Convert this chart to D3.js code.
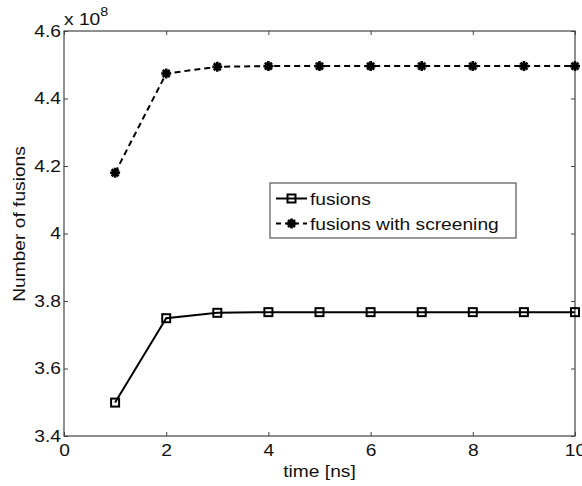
<!DOCTYPE html>
<html>
<head>
<meta charset="utf-8">
<script src="https://cdn.jsdelivr.net/npm/d3@7"></script>
<style>
  body { margin: 0; background: #fff; }
  text { font-family: "Liberation Sans", Arial, sans-serif; fill: #111; }
</style>
</head>
<body>
<div id="chart"></div>
<script>
// data (values in units of 1e8)
var times = [1, 2, 3, 4, 5, 6, 7, 8, 9, 10];
var fusions = [3.499, 3.749, 3.765, 3.767, 3.767, 3.767, 3.767, 3.767, 3.767, 3.767];
var fusionsScreening = [4.180, 4.474, 4.494, 4.496, 4.496, 4.496, 4.496, 4.496, 4.496, 4.496];
var xTicks = [0, 2, 4, 6, 8, 10];
var yTicks = [3.4, 3.6, 3.8, 4, 4.2, 4.4, 4.6];
var seriesNames = ['fusions', 'fusions with screening'];

var W = 582, H = 486;
var margin = {left: 64, right: 7, top: 31, bottom: 50};
var w = W - margin.left - margin.right,
    h = H - margin.top - margin.bottom;
var stretch = 1.2; // the figure's glyphs are wide, stretch text horizontally

var svg = d3.select('#chart').append('svg')
    .attr('width', W).attr('height', H);
var g = svg.append('g')
    .attr('transform', 'translate(' + margin.left + ',' + margin.top + ')');

var x = d3.scaleLinear().domain([0, 10]).range([0, w]);
var y = d3.scaleLinear().domain([3.4, 4.6]).range([h, 0]);

var axisColor = '#444';
var fmt = d3.format('~g');

// axes, matlab style: ticks pointing in, box on all sides
function styleAxis(sel){
    sel.select('.domain').remove();
    sel.selectAll('line').attr('stroke', axisColor);
    sel.selectAll('text').attr('font-size', '16px').attr('fill', '#111')
        .each(function(){
            var t = d3.select(this);
            var tx = +t.attr('x') || 0;
            t.attr('x', tx / stretch).attr('transform', 'scale(' + stretch + ',1)');
        });
}
g.append('g').attr('transform', 'translate(0,' + h + ')')
    .call(d3.axisBottom(x).tickValues(xTicks).tickFormat(fmt).tickSizeInner(-4).tickSizeOuter(0).tickPadding(9))
    .call(styleAxis);
g.append('g')
    .call(d3.axisTop(x).tickValues(xTicks).tickFormat('').tickSizeInner(-4).tickSizeOuter(0))
    .call(styleAxis);
g.append('g')
    .call(d3.axisLeft(y).tickValues(yTicks).tickFormat(fmt).tickSizeInner(-4).tickSizeOuter(0).tickPadding(3))
    .call(styleAxis);
g.append('g').attr('transform', 'translate(' + w + ',0)')
    .call(d3.axisRight(y).tickValues(yTicks).tickFormat('').tickSizeInner(-4).tickSizeOuter(0))
    .call(styleAxis);

g.append('rect')
    .attr('width', w).attr('height', h)
    .attr('fill', 'none').attr('stroke', axisColor).attr('stroke-width', 1.2);

// exponent label
var expo = svg.append('text')
    .attr('transform', 'translate(64,25) scale(' + stretch + ',1)')
    .attr('font-size', '16px');
expo.append('tspan').text('x 10');
expo.append('tspan').attr('dy', -9).attr('font-size', '12px').text('8');

// axis titles
svg.append('text')
    .attr('transform', 'translate(' + (margin.left + w / 2) + ',477) scale(' + stretch + ',1)')
    .attr('text-anchor', 'middle').attr('font-size', '16px')
    .text('time [ns]');
svg.append('text')
    .attr('transform', 'translate(25,224) rotate(-90) scale(' + stretch + ',1)')
    .attr('text-anchor', 'middle').attr('font-size', '16px')
    .text('Number of fusions');

var line = d3.line().x(d => x(d[0])).y(d => y(d[1]));

function squareMarker(sel, s){
    sel.append('rect')
        .attr('x', -s / 2).attr('y', -s / 2).attr('width', s).attr('height', s)
        .attr('fill', 'none').attr('stroke', '#000').attr('stroke-width', 2);
}
function starMarker(sel, r){
    var d = 'M' + (-r) + ',0L' + r + ',0M0,' + (-r) + 'L0,' + r +
        'M' + (-r * 0.7) + ',' + (-r * 0.7) + 'L' + (r * 0.7) + ',' + (r * 0.7) +
        'M' + (-r * 0.7) + ',' + (r * 0.7) + 'L' + (r * 0.7) + ',' + (-r * 0.7);
    sel.append('path').attr('d', d).attr('stroke', '#000').attr('stroke-width', 2.6).attr('fill', 'none');
    sel.append('circle').attr('r', r * 0.45).attr('fill', '#000');
}

var series = [
    {name: seriesNames[0], values: fusions, dash: null, marker: s => squareMarker(s, 8)},
    {name: seriesNames[1], values: fusionsScreening, dash: '6,4', marker: s => starMarker(s, 5)}
];

series.forEach(function(sr){
    var pts = times.map((t, i) => [t, sr.values[i]]);
    g.append('path').datum(pts)
        .attr('d', line)
        .attr('fill', 'none').attr('stroke', '#000').attr('stroke-width', 2)
        .attr('stroke-dasharray', sr.dash);
    g.selectAll(null).data(pts).enter().append('g')
        .attr('transform', d => 'translate(' + x(d[0]) + ',' + y(d[1]) + ')')
        .each(function(){ sr.marker(d3.select(this)); });
});

// legend
var legend = svg.append('g').attr('transform', 'translate(270,183)');
legend.append('rect')
    .attr('width', 246).attr('height', 55)
    .attr('fill', '#fff').attr('stroke', '#555').attr('stroke-width', 1.2);
series.forEach(function(sr, i){
    var row = legend.append('g').attr('transform', 'translate(0,' + (15.5 + i * 25) + ')');
    row.append('line')
        .attr('x1', 6).attr('x2', 37)
        .attr('stroke', '#000').attr('stroke-width', 2)
        .attr('stroke-dasharray', sr.dash ? '5,4' : null);
    var m = row.append('g').attr('transform', 'translate(21.5,0)');
    sr.marker(m);
    row.append('text')
        .attr('transform', 'translate(40,6) scale(' + stretch + ',1)')
        .attr('font-size', '16px')
        .text(sr.name);
});
</script>
</body>
</html>
